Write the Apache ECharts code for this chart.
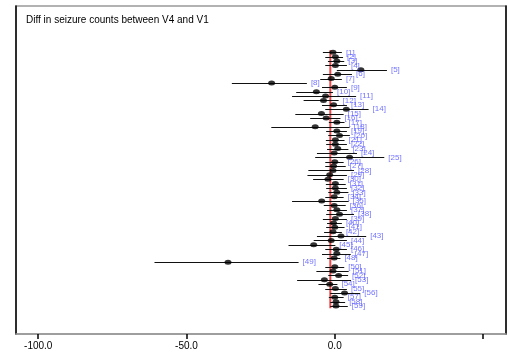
<!DOCTYPE html>
<html><head><meta charset="utf-8">
<script src="https://cdn.jsdelivr.net/npm/echarts@6/dist/echarts.min.js"></script>
<style>html,body{margin:0;padding:0;background:#fff}#c{width:507px;height:352px}</style>
</head><body><div id="c"></div>
<script>
const titleText = 'Diff in seizure counts between V4 and V1';
const means = [-0.6,0.2,0.7,0.2,8.8,1.0,-1.2,-21.3,0.0,-6.2,-3.1,-3.8,-0.4,3.9,-4.5,-2.9,0.7,-6.6,0.7,1.6,0.2,0.2,1.0,-0.2,5.0,0.0,-0.4,-0.6,-1.7,-2.3,0.2,0.2,0.7,-0.2,-4.4,-0.2,0.7,1.6,0.2,-0.4,0.0,-0.6,2.1,-1.2,-7.1,0.5,0.7,-0.2,-36.0,0.0,-0.6,1.3,-3.5,-1.7,0.2,3.3,0.0,0.4,0.4];
const lower = [-4.0,-3.2,-2.3,-3.2,0.7,-4.0,-4.9,-34.7,-4.3,-13.0,-14.4,-10.5,-4.3,-3.2,-13.3,-8.3,-2.0,-21.4,-2.9,-2.2,-3.0,-2.9,-2.6,-6.0,-6.6,-3.2,-3.2,-8.9,-9.2,-7.3,-3.0,-2.9,-2.2,-3.2,-14.4,-3.7,-2.6,-2.9,-4.0,-2.6,-2.9,-3.6,-6.0,-7.1,-15.6,-3.2,-4.3,-2.6,-60.8,-3.2,-6.2,-2.2,-12.7,-5.5,-3.2,-1.5,-2.0,-1.5,-1.5];
const upper = [2.4,2.8,3.2,4.1,17.6,5.8,2.4,-9.4,4.1,-0.6,7.2,1.3,4.1,11.4,3.0,1.9,3.3,5.0,4.1,5.1,3.3,4.1,4.6,7.5,16.7,3.0,3.7,6.5,4.1,3.0,3.7,4.1,4.6,3.0,4.7,3.7,4.1,6.5,4.1,2.4,3.3,2.4,10.6,4.1,0.2,4.1,5.4,1.9,-12.2,3.2,4.7,4.5,5.5,0.9,4.1,8.6,3.0,3.5,4.4];
const refValue = -1.5;
const tickValues = [-100, -50, 0, 50];
const labelValues = [-100, -50, 0];

const idx = means.map((_, i) => i + 1);
const chart = echarts.init(document.getElementById('c'), null, {renderer: 'canvas'});
const FONT = 'Liberation Sans, Arial, sans-serif';
chart.setOption({
  animation: false,
  title: {text: titleText, left: 21, top: 10, textStyle: {fontSize: 10, fontWeight: 'normal', color: '#000', fontFamily: FONT}},
  grid: {left: 16, right: 1, top: 6, bottom: 18, show: true, borderColor: '#999', borderWidth: 1.5},
  xAxis: {
    type: 'value', min: -107.5, max: 57.75,
    splitLine: {show: false},
    axisLine: {show: true, onZero: false, lineStyle: {color: '#999', width: 1.5}},
    axisTick: {show: true, customValues: tickValues, length: 5, lineStyle: {color: '#000', width: 1.5}},
    axisLabel: {customValues: labelValues, color: '#000', fontSize: 10, fontFamily: FONT, margin: 7,
      formatter: v => v.toFixed(1)}
  },
  yAxis: [
    {type: 'value', inverse: true, min: -9.6, max: 65.4, position: 'left',
     axisLine: {show: true, onZero: false, lineStyle: {color: '#000', width: 1.5}}, axisTick: {show: false}, axisLabel: {show: false}, splitLine: {show: false}},
    {type: 'value', inverse: true, min: -9.6, max: 65.4, position: 'right',
     axisLine: {show: true, onZero: false, lineStyle: {color: '#000', width: 1.5}}, axisTick: {show: false}, axisLabel: {show: false}, splitLine: {show: false}}
  ],
  series: [
    {type: 'line', data: [[refValue, 0.5], [refValue, 59.5]], symbol: 'none',
     lineStyle: {color: '#f04848', width: 2}, z: 1},
    {type: 'custom', z: 2,
     data: idx.map((k, i) => [lower[i], upper[i], k]),
     encode: {x: [0, 1], y: 2},
     renderItem: (params, api) => {
       const a = api.coord([api.value(0), api.value(2)]);
       const b = api.coord([api.value(1), api.value(2)]);
       return {type: 'line', shape: {x1: a[0], y1: Math.round(a[1]) + 0.5, x2: b[0], y2: Math.round(b[1]) + 0.5},
         style: {stroke: '#111', lineWidth: 1}};
     }},
    {type: 'scatter', z: 3, data: idx.map((k, i) => [means[i], k]),
     symbol: 'circle', symbolSize: [7, 5], itemStyle: {color: '#000'}},
    {type: 'scatter', z: 4, data: idx.map((k, i) => [upper[i], k]),
     symbolSize: 0, silent: true,
     label: {show: true, position: 'right', distance: 4, formatter: p => '[' + p.data[1] + ']',
       color: '#5050ff', fontSize: 8, fontFamily: FONT}}
  ]
});
</script></body></html>
